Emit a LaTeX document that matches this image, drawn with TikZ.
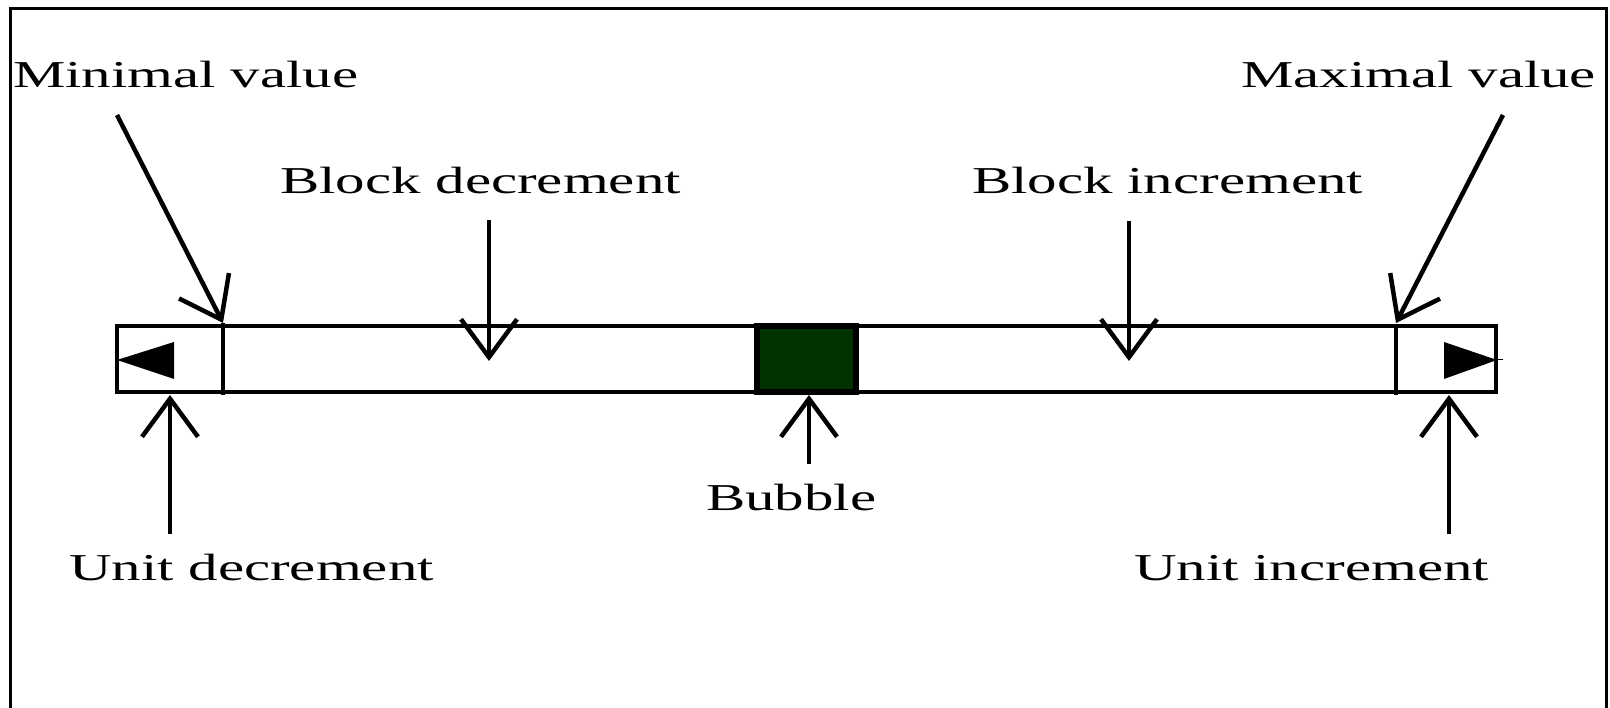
\documentclass[tikz,border=0pt]{standalone}
\usepackage{fontspec}
\usepackage{tikz}
\usetikzlibrary{arrows.meta, positioning, calc}
\newfontfamily\labelfont{Liberation Serif}[FakeStretch=1.55]
\definecolor{bubblegreen}{RGB}{0, 51, 0}
\tikzset{
  lbl/.style={inner sep=0pt, anchor=base west, font=\labelfont\fontsize{38}{40}\selectfont},
  pointer/.style={line width=4.5pt, -{Straight Barb[length=38pt, width=56pt, line join=miter]}},
  barline/.style={line width=4.5pt}
}
\begin{document}
\begin{tikzpicture}[x=1pt, y=-1pt]
  \useasboundingbox (0,0) rectangle (1610,708);
  % frame, open at the bottom
  \draw[line width=3pt] (10,712) -- (10,9) -- (1606,9) -- (1606,712);

  % scroll bar
  \draw[barline] (117,326) rectangle (1496,392);
  \draw[barline] (223,323) -- (223,395);
  \draw[barline] (1396,326) -- (1396,395);
  \draw[line width=5.5pt, fill=bubblegreen] (757,326) rectangle (856,392);
  \fill (117,360) -- (174,342) -- (174,379) -- cycle;
  \fill (1444,342) -- (1497,360) -- (1444,379) -- cycle;
  \draw[line width=1pt] (1497,360) -- (1503,360);

  % labels
  \node[lbl] (minval) at (13,88) {Minimal value};
  \node[lbl] (maxval) at (1241,88) {Maximal value};
  \node[lbl] (blockdec) at (280,194) {Block decrement};
  \node[lbl] (blockinc) at (972,194) {Block increment};
  \node[lbl] (bubble) at (706,511) {Bubble};
  \node[lbl] (unitdec) at (69,580) {Unit decrement};
  \node[lbl] (unitinc) at (1134,580) {Unit increment};

  % arrow ends
  \coordinate (minfoot) at (117,115);
  \coordinate (mintip) at (223,323);
  \coordinate (maxfoot) at (1503,115);
  \coordinate (maxtip) at (1396,323);
  \coordinate (bdfoot) at (489,220);
  \coordinate (bdtip) at (489,361);
  \coordinate (bifoot) at (1129,221);
  \coordinate (bitip) at (1129,361);
  \coordinate (bbfoot) at (809,464);
  \coordinate (bbtip) at (809,395);
  \coordinate (udfoot) at (170,534);
  \coordinate (udtip) at (170,395);
  \coordinate (uifoot) at (1449,534);
  \coordinate (uitip) at (1449,395);

  \draw[pointer] (minfoot) -- (mintip);
  \draw[pointer] (maxfoot) -- (maxtip);
  \draw[pointer] (bdfoot) -- (bdtip);
  \draw[pointer] (bifoot) -- (bitip);
  \draw[pointer] (bbfoot) -- (bbtip);
  \draw[pointer] (udfoot) -- (udtip);
  \draw[pointer] (uifoot) -- (uitip);
\end{tikzpicture}
\end{document}
